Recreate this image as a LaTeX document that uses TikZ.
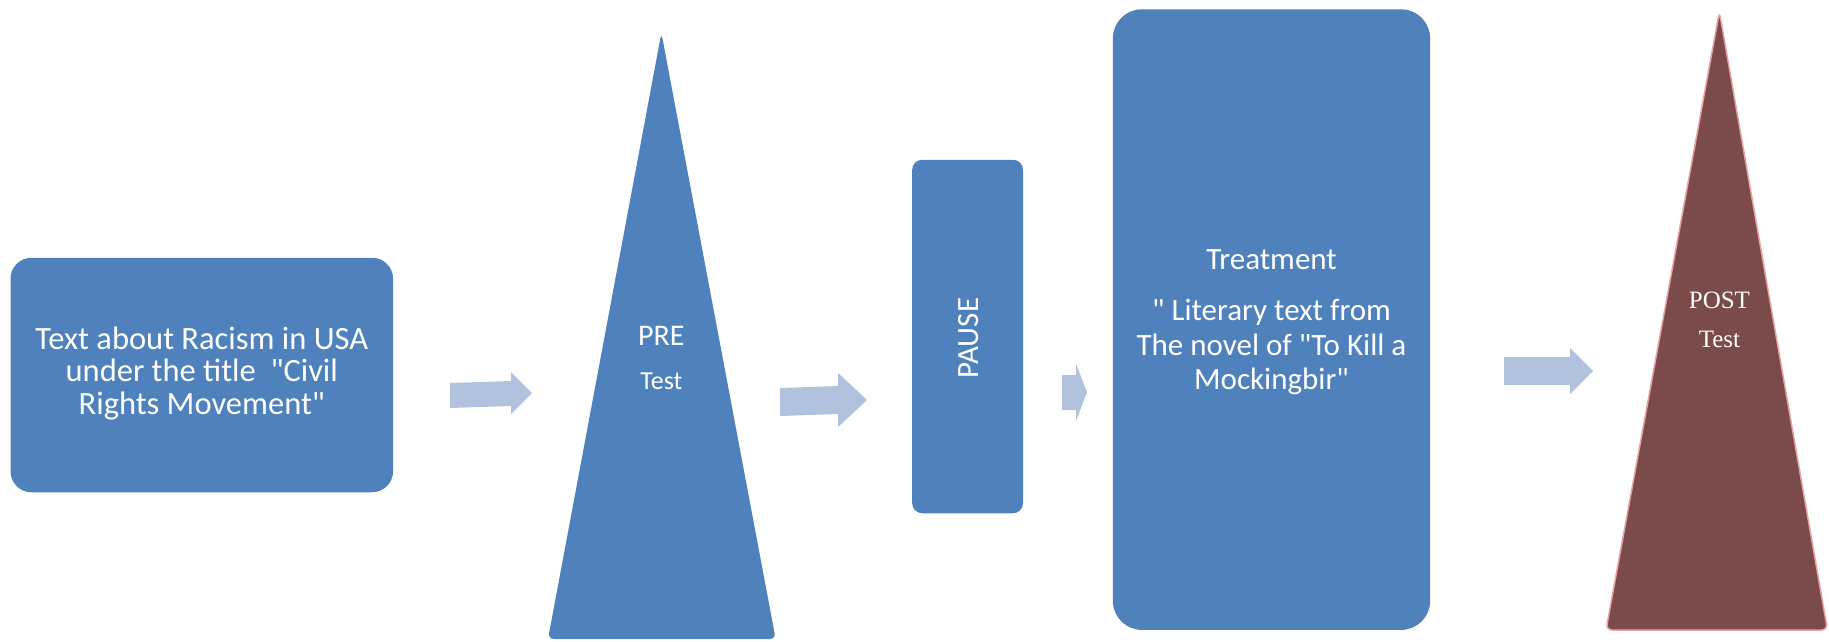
\documentclass[tikz,border=0pt]{standalone}
\usepackage{fontspec}
\newfontfamily\calfont{Carlito}
\newfontfamily\postfont{Liberation Serif}
\definecolor{boxblue}{HTML}{4F81BD}
\definecolor{arrowblue}{HTML}{B0C2DE}
\definecolor{postbrown}{HTML}{7A4B4A}
\definecolor{postedge}{HTML}{E8A3A3}
\begin{document}
\begin{tikzpicture}[x=1pt,y=-1pt,
  bluebox/.style={fill=boxblue,draw=none,text=white,align=center,inner sep=0pt},
  blockarrow/.style={fill=arrowblue,draw=none},
  tritext/.style={text=white,align=center,inner sep=0pt,anchor=base}]
\useasboundingbox (0,0) rectangle (1829,641);

% Box 1
\node[bluebox,rounded corners=21pt,minimum width=382.6pt,minimum height=234.5pt] (text1) at (201.8,375) {};
\node[text=white,align=center,inner sep=0pt,anchor=base,
  font=\calfont\fontsize{32.5}{32.5}\selectfont] (text1label) at (201.8,414)
  {Text about Racism in USA\\under the title~~"Civil\\Rights Movement"};

% Arrow 1
\fill[blockarrow] (450,383) -- (511,381) -- (511,372) -- (532,393) -- (511,414) -- (511,406) -- (450,408) -- cycle;

% PRE triangle
\fill[boxblue,rounded corners=6pt] (548,639) -- (661.4,32.7) -- (775.7,639) -- cycle;
\node[tritext,font=\calfont\fontsize{30}{36}\selectfont] (pre) at (661.4,345) {PRE};
\node[tritext,font=\calfont\fontsize{26}{30}\selectfont] (pretest) at (661.4,389) {Test};

% Arrow 2
\fill[blockarrow] (780,388) -- (838,386) -- (838,373) -- (867,400) -- (838,427) -- (838,414) -- (780,416) -- cycle;

% PAUSE box
\node[bluebox,rounded corners=10pt,minimum width=110.8pt,minimum height=353.5pt] (pause) at (967.6,336.5) {};
\node[text=white,rotate=90,font=\calfont\fontsize{31}{36}\selectfont,inner sep=0pt] (pausetext) at (969,338) {PAUSE};

% Arrow 3
\fill[blockarrow] (1062,375) -- (1076,375) -- (1076,364) -- (1087,392) -- (1076,421) -- (1076,410) -- (1062,410) -- cycle;

% Treatment box
\node[bluebox,rounded corners=29pt,minimum width=317.3pt,minimum height=620.6pt] (treat) at (1271.5,319.6) {};
\node[text=white,align=center,inner sep=0pt,
  font=\calfont\fontsize{31}{34.5}\selectfont] (treatlabel) at (1271.5,322)
  {Treatment\\[17pt]" Literary text from\\The novel of "To Kill a\\Mockingbir"};

% Arrow 4
\fill[blockarrow] (1504,357) -- (1570,357) -- (1570,348) -- (1593,371) -- (1570,394) -- (1570,385) -- (1504,385) -- cycle;

% POST triangle
\fill[postbrown,draw=postedge,line width=1.5pt,rounded corners=6pt] (1606,630) -- (1719.4,11.7) -- (1827.5,630) -- cycle;
\node[tritext,font=\postfont\fontsize{25}{39}\selectfont] (post) at (1719.4,347) {POST\\Test};
\end{tikzpicture}
\end{document}
